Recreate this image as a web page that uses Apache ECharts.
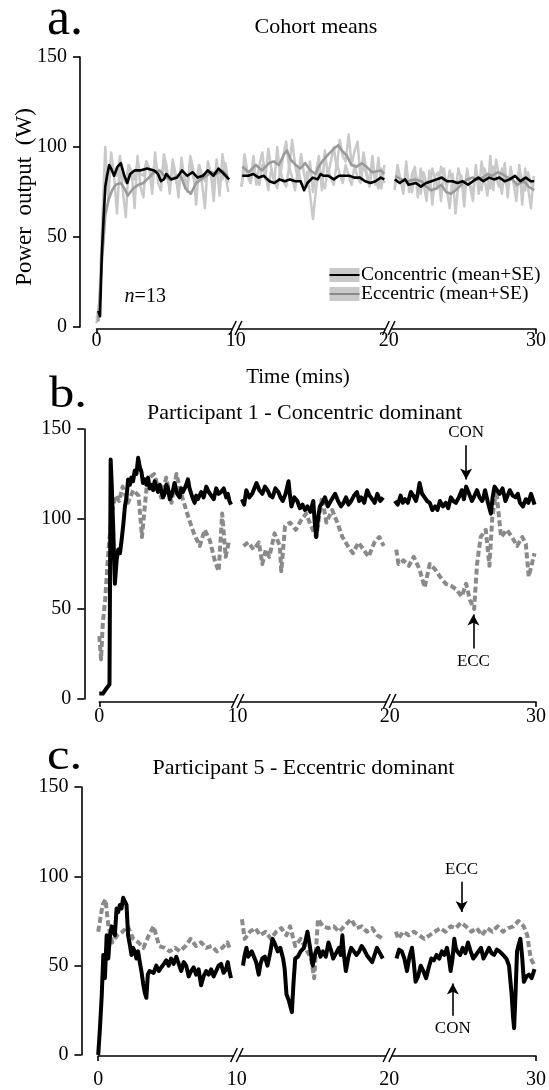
<!DOCTYPE html>
<html>
<head>
<meta charset="utf-8">
<script src="https://cdn.jsdelivr.net/npm/echarts@6/dist/echarts.min.js"></script>
<style>
html,body{margin:0;padding:0;background:#fff;}
#chart{width:549px;height:1090px;}
</style>
</head>
<body>
<div id="chart"></div>
<script>
// ---------- DATA ----------
const tickValues = [0, 9.5, 19.95, 30];
const tickLabels = ['0', '10', '20', '30'];
const breakTimes = [9.5, 19.95];

// Panel a: cohort means [time (min), power (W)]
const conA1 = [[0.12,9],[0.24,6],[0.36,40],[0.48,60],[0.6,78],[0.72,84],[0.87,90],[1.0,88],[1.2,84],[1.43,89],[1.66,91],[1.9,84],[2.1,80],[2.3,85],[2.6,87],[2.98,87],[3.45,88],[3.93,87],[4.2,85],[4.4,81],[4.6,82],[4.76,85],[5.1,82],[5.5,83],[5.83,87],[6.2,84],[6.55,86],[6.9,83],[7.26,84],[7.6,87],[7.98,84],[8.33,88],[8.7,85],[9.05,82]];
const conA2 = [[9.95,84],[10.36,84],[10.7,85],[11.07,83],[11.43,84],[11.8,81],[12.14,80],[12.5,82],[12.86,81],[13.2,82],[13.57,81],[13.93,81],[14.17,76],[14.4,80],[14.76,83],[15.1,82],[15.3,85],[15.5,84],[15.83,84],[16.2,82],[16.55,84],[16.9,84],[17.26,84],[17.6,83],[17.98,83],[18.33,81],[18.7,80],[19.05,81],[19.4,83],[19.64,82]];
const conA3 = [[20.36,82],[20.7,80],[21.07,82],[21.3,79],[21.8,80],[22.14,78],[22.5,80],[22.86,81],[23.2,82],[23.57,83],[23.93,81],[24.3,81],[24.64,80],[25.0,81],[25.36,79],[25.7,81],[26.07,83],[26.4,81],[26.8,83],[27.14,82],[27.5,83],[27.86,81],[28.2,82],[28.57,84],[28.93,81],[29.3,83],[29.64,81],[29.88,81]];
const eccA1 = [[0.12,3],[0.36,35],[0.6,62],[0.83,71],[1.07,76],[1.3,79],[1.67,80],[1.9,77],[2.14,73],[2.5,77],[2.86,79],[3.2,80],[3.57,83],[3.93,86],[4.3,87],[4.64,84],[5.0,82],[5.36,83],[5.7,85],[6.07,77],[6.43,74],[6.8,80],[7.14,82],[7.5,84],[7.86,86],[8.2,85],[8.57,87],[8.93,84]];
const eccA2 = [[9.96,89],[10.4,86],[10.87,90],[11.3,87],[11.77,91],[12.1,92],[12.45,90],[12.8,96],[13.0,98],[13.25,93],[13.6,90],[13.9,88],[14.25,91],[14.6,87],[14.94,85],[15.16,89],[15.5,93],[15.84,96],[16.2,99],[16.5,101],[16.75,98],[17.1,95],[17.4,90],[17.75,89],[18.1,91],[18.44,89],[18.8,86],[19.4,87],[19.64,85]];
const eccA3 = [[20.4,84],[20.8,82],[21.27,81],[21.7,82],[22.17,81],[22.5,78],[22.85,76],[23.2,77],[23.53,79],[23.87,75],[24.2,74],[24.66,77],[25.0,80],[25.33,82],[25.68,83],[26.0,82],[26.36,83],[26.7,85],[27.03,84],[27.37,86],[27.7,85],[28.05,83],[28.4,82],[28.7,79],[29.17,81],[29.5,78],[29.88,76]];

// Panel a: SE traces (evenly sampled within each recording block)
const seBlocks = [[0, 9.0], [9.9, 19.65], [20.35, 29.85]];
const eccSE1 = [2,15,60,100,70,97,84,63,92,75,61,90,86,66,95,78,72,92,88,74,97,80,76,96,89,74,93,85,72,94,82,75,95,88,68,90,80,66,92,86,70,93,73,96,84,75];
const eccSE2 = [78,96,86,80,95,79,90,97,82,99,88,80,100,84,95,103,88,104,90,82,96,85,78,92,75,86,95,76,98,84,92,100,88,104,95,92,107,90,98,103,82,97,86,80,95,79,94,77,90];
const eccSE3 = [76,90,82,74,92,75,85,89,72,88,80,70,87,68,84,86,70,88,76,66,85,63,80,84,67,88,78,70,90,74,92,82,73,95,76,93,84,74,91,72,89,80,70,90,68,88,78,66,84];
const conSE1 = [5,10,45,88,82,93,86,84,95,83,80,90,86,82,92,85,84,92,88,83,93,86,82,92,84,78,90,82,77,88,84,78,92,83,80,90,85,81,89,84,79,90,86,82,91,80];
const conSE2 = [78,90,84,80,89,83,79,90,85,76,88,82,77,87,81,78,89,83,76,88,80,77,86,74,60,76,89,82,77,88,83,79,91,85,80,90,84,79,90,83,80,91,84,78,89,82,77,88,80];
const conSE3 = [77,88,82,76,87,80,75,86,81,74,86,79,76,88,82,77,89,83,78,87,80,76,88,82,77,86,79,75,87,81,76,88,82,77,89,83,78,88,81,77,87,80,78,88,82,76,86,80,78];

// Panel b: Participant 1
const conB1 = [[0,3],[0.25,3],[0.5,6],[0.7,8],[0.78,133],[0.85,120],[0.96,94],[1.07,64],[1.2,78],[1.3,83],[1.42,81],[1.53,88],[1.65,97],[1.76,107],[1.87,112],[1.98,122],[2.1,119],[2.2,123],[2.32,121],[2.44,127],[2.55,125],[2.67,134],[2.78,129],[2.9,126],[3.0,120],[3.12,122],[3.24,119],[3.35,123],[3.46,117],[3.58,119],[3.7,116],[3.8,121],[3.92,118],[4.03,115],[4.15,119],[4.26,118],[4.38,112],[4.49,114],[4.6,119],[4.72,117],[4.84,111],[4.95,113],[5.06,116],[5.17,120],[5.35,114],[5.52,112],[5.63,117],[5.75,115],[5.92,118],[6.09,122],[6.2,117],[6.32,114],[6.44,111],[6.55,109],[6.66,113],[6.77,111],[6.88,113],[7.0,115],[7.17,112],[7.35,118],[7.52,115],[7.69,113],[7.86,111],[8.03,117],[8.2,114],[8.37,115],[8.55,117],[8.72,112],[8.83,114],[8.94,110],[9.05,108]];
const conB2 = [[9.8,111],[9.95,108],[10.1,116],[10.3,112],[10.5,114],[10.65,117],[10.8,120],[11.0,116],[11.2,114],[11.38,118],[11.56,116],[11.73,113],[11.9,112],[12.1,117],[12.3,115],[12.45,112],[12.6,110],[12.8,114],[13.0,121],[13.1,113],[13.2,107],[13.4,112],[13.6,110],[13.78,106],[13.96,108],[14.13,105],[14.3,107],[14.5,104],[14.7,110],[14.8,98],[14.9,90],[15.02,100],[15.15,107],[15.32,109],[15.5,112],[15.7,107],[15.9,110],[16.05,112],[16.2,114],[16.4,110],[16.6,107],[16.78,109],[16.95,112],[17.12,108],[17.3,110],[17.5,113],[17.7,115],[17.85,110],[18.0,112],[18.2,109],[18.4,116],[18.57,113],[18.75,111],[18.92,109],[19.1,114],[19.3,110],[19.5,112]];
const conB3 = [[20.3,110],[20.5,108],[20.7,113],[20.85,109],[21.0,111],[21.2,109],[21.4,115],[21.57,113],[21.75,110],[21.88,114],[22.0,120],[22.17,114],[22.35,112],[22.52,110],[22.7,109],[22.88,105],[23.07,107],[23.23,105],[23.4,110],[23.6,107],[23.8,109],[23.97,106],[24.15,112],[24.32,110],[24.5,109],[24.7,112],[24.9,116],[25.05,111],[25.2,118],[25.4,114],[25.6,110],[25.78,113],[25.95,116],[26.12,112],[26.3,110],[26.4,112],[26.5,116],[26.7,109],[26.9,103],[27.02,112],[27.15,118],[27.32,116],[27.5,114],[27.7,117],[27.9,110],[28.05,113],[28.2,116],[28.4,113],[28.6,112],[28.75,114],[28.9,109],[29.1,107],[29.3,111],[29.48,109],[29.66,114],[29.78,111],[29.9,108]];
const eccB1 = [[0,35],[0.12,22],[0.24,42],[0.4,55],[0.65,85],[0.9,105],[1.1,113],[1.37,110],[1.6,118],[1.97,109],[2.33,116],[2.7,113],[2.93,90],[3.3,122],[3.77,125],[4.24,112],[4.6,123],[4.96,109],[5.3,125],[5.7,112],[6.16,100],[6.5,92],[6.9,85],[7.24,94],[7.6,88],[7.96,76],[8.2,71],[8.44,103],[8.68,79],[8.92,88]];
const eccB2 = [[9.9,85],[10.24,87],[10.6,83],[10.96,87],[11.2,75],[11.44,83],[11.68,79],[12.04,92],[12.4,85],[12.5,71],[12.76,96],[13.1,98],[13.5,94],[13.84,99],[14.2,103],[14.56,96],[14.9,90],[15.3,112],[15.6,98],[16.0,105],[16.35,98],[16.7,90],[17.07,85],[17.43,81],[17.8,87],[18.15,83],[18.5,79],[18.9,87],[19.23,90],[19.54,85]];
const eccB3 = [[20.4,83],[20.55,75],[20.9,77],[21.27,74],[21.6,79],[22.0,72],[22.35,62],[22.7,75],[23.07,72],[23.4,68],[23.8,64],[24.15,63],[24.5,61],[24.9,57],[25.2,64],[25.46,55],[25.75,50],[25.95,75],[26.2,90],[26.55,94],[26.8,74],[27.0,101],[27.27,116],[27.6,90],[28.0,94],[28.35,90],[28.7,85],[29.06,90],[29.3,86],[29.5,68],[29.9,81]];

// Panel c: Participant 5
const conC1 = [[0,0],[0.12,15],[0.24,33],[0.35,56],[0.46,43],[0.58,67],[0.69,54],[0.8,66],[0.92,72],[1.03,70],[1.14,67],[1.26,82],[1.37,80],[1.48,84],[1.6,82],[1.71,88],[1.82,87],[1.94,84],[2.05,67],[2.16,62],[2.28,56],[2.39,60],[2.5,58],[2.62,54],[2.73,58],[2.85,52],[2.96,47],[3.08,40],[3.19,35],[3.3,32],[3.4,45],[3.52,47],[3.64,48],[3.8,46],[3.98,50],[4.15,47],[4.32,49],[4.5,51],[4.66,53],[4.83,50],[5.0,54],[5.17,51],[5.35,55],[5.52,51],[5.69,47],[5.86,52],[6.03,50],[6.2,44],[6.37,47],[6.54,49],[6.71,45],[6.88,48],[7.05,39],[7.22,44],[7.4,47],[7.57,45],[7.74,48],[7.91,44],[8.08,47],[8.25,50],[8.42,51],[8.59,46],[8.76,48],[8.88,52],[8.99,47],[9.1,43]];
const conC2 = [[9.92,50],[10.04,56],[10.16,60],[10.28,55],[10.4,54],[10.52,58],[10.64,58],[10.82,52],[11.0,45],[11.12,51],[11.24,54],[11.42,55],[11.6,50],[11.78,57],[11.95,65],[12.12,62],[12.3,58],[12.48,60],[12.67,54],[12.78,48],[12.9,34],[13.08,30],[13.27,24],[13.38,40],[13.5,54],[13.68,55],[13.87,58],[14.1,60],[14.34,69],[14.52,60],[14.7,50],[14.88,57],[15.06,60],[15.23,55],[15.4,58],[15.6,55],[15.78,63],[15.94,59],[16.1,54],[16.3,57],[16.5,60],[16.62,56],[16.73,67],[16.85,55],[16.97,47],[17.15,55],[17.33,60],[17.52,58],[17.7,56],[17.88,58],[18.05,61],[18.22,59],[18.4,56],[18.58,54],[18.77,52],[18.94,56],[19.1,60],[19.3,57],[19.5,54]];
const conC3 = [[20.44,54],[20.62,59],[20.8,58],[20.98,54],[21.16,47],[21.33,55],[21.5,60],[21.62,52],[21.75,41],[21.92,44],[22.1,50],[22.28,47],[22.47,43],[22.65,49],[22.83,54],[23.0,53],[23.19,56],[23.37,54],[23.55,58],[23.72,56],[23.9,60],[24.02,55],[24.15,47],[24.28,54],[24.4,65],[24.5,60],[24.6,58],[24.8,56],[24.98,60],[25.16,57],[25.34,63],[25.52,58],[25.7,54],[25.88,56],[26.06,58],[26.23,60],[26.4,54],[26.6,57],[26.78,60],[26.95,57],[27.13,56],[27.32,59],[27.5,58],[27.74,56],[27.97,54],[28.15,50],[28.33,34],[28.42,22],[28.5,15],[28.6,35],[28.7,58],[28.82,62],[28.93,65],[29.05,55],[29.17,41],[29.35,44],[29.52,45],[29.7,43],[29.9,48]];
const eccC1 = [[0,69],[0.1,69],[0.3,84],[0.5,87],[0.7,72],[0.96,63],[1.3,67],[1.67,69],[2.03,72],[2.4,65],[2.75,63],[3.1,60],[3.47,67],[3.8,72],[4.18,61],[4.54,60],[4.9,58],[5.26,60],[5.6,58],[5.98,61],[6.33,65],[6.7,61],[7.05,63],[7.4,60],[7.77,61],[8.13,58],[8.5,60],[8.85,63],[9.0,60]];
const eccC2 = [[9.85,76],[10.04,65],[10.4,69],[10.76,71],[11.1,67],[11.47,69],[11.83,65],[12.2,69],[12.55,71],[12.9,67],[13.15,72],[13.5,61],[13.87,65],[14.2,60],[14.58,54],[14.8,43],[15.06,76],[15.4,72],[15.78,71],[16.14,72],[16.5,69],[16.85,72],[17.33,76],[17.7,71],[18.05,72],[18.4,69],[18.77,71],[19.12,67],[19.55,65]];
const eccC3 = [[20.4,69],[20.56,65],[20.9,69],[21.28,67],[21.63,69],[22.0,67],[22.35,65],[22.7,67],[23.07,69],[23.43,71],[23.8,69],[24.15,72],[24.5,71],[24.86,74],[25.2,72],[25.58,69],[25.94,71],[26.3,67],[26.65,71],[27.0,69],[27.37,72],[27.73,69],[28.1,71],[28.45,72],[28.8,75],[29.16,72],[29.4,67],[29.64,54],[29.9,50]];

// Arrow annotations: panel index, label, time, arrow start value, arrow tip value
const annotations = [
  {panel: 1, text: 'CON', t: 25.2, from: 141, to: 122},
  {panel: 1, text: 'ECC', t: 25.7, from: 28, to: 47},
  {panel: 2, text: 'ECC', t: 24.9, from: 97, to: 80},
  {panel: 2, text: 'CON', t: 24.3, from: 22, to: 40}
];
const panelTitles = ['Cohort means', 'Participant 1 - Concentric dominant', 'Participant 5 - Eccentric dominant'];
const panelLetters = ['a.', 'b.', 'c.'];
const legendLabels = ['Concentric (mean+SE)', 'Eccentric (mean+SE)'];

// ---------- BUILD ----------
const FONT = '"Liberation Serif", "DejaVu Serif", serif';
function joinBlocks(blocks) {
  let out = [];
  blocks.forEach((b, i) => {
    if (i > 0) out.push([ (blocks[i-1][blocks[i-1].length-1][0] + b[0][0]) / 2, null ]);
    out = out.concat(b);
  });
  return out;
}
function spread(values, range) {
  const n = values.length, step = (range[1] - range[0]) / (n - 1);
  return values.map((v, i) => [range[0] + i * step, v]);
}

const grids = [
  {left: 96.5, right: 10.4, top: 57, height: 270},
  {left: 99.3, right: 10.4, top: 429, height: 270},
  {left: 98.2, right: 10.4, top: 787, height: 270}
];
const yOffsets = [16.5, 15, 16.8];
const xOffsets = [2, 3, 1];
const xLabelMargins = [2, 5, 14];

const chart = echarts.init(document.getElementById('chart'), null, {renderer: 'canvas'});

const xAxes = grids.map((g, i) => ({
  type: 'value', gridIndex: i, min: 0, max: 30, offset: xOffsets[i],
  axisLine: {onZero: false, lineStyle: {color: '#000', width: 1.6}},
  axisTick: {show: true, customValues: [0, 30], length: 5, lineStyle: {color: '#000', width: 1.6}},
  axisLabel: {customValues: tickValues, margin: xLabelMargins[i], color: '#000', fontSize: 20, fontFamily: FONT,
    formatter: v => { const k = tickValues.indexOf(v); return k >= 0 ? tickLabels[k] : ''; }},
  splitLine: {show: false}
}));
const yAxes = grids.map((g, i) => ({
  type: 'value', gridIndex: i, min: 0, max: 150, interval: 50, offset: yOffsets[i],
  axisLine: {show: true, onZero: false, lineStyle: {color: '#000', width: 1.6}},
  axisTick: {show: true, length: 7, lineStyle: {color: '#000', width: 1.6}},
  axisLabel: {margin: 13, color: '#000', fontSize: 20, fontFamily: FONT},
  splitLine: {show: false}
}));

function lineSeries(name, idx, data, color, width, dash, z) {
  return {
    name, type: 'line', xAxisIndex: idx, yAxisIndex: idx, data, showSymbol: false, symbol: 'none',
    connectNulls: false, z: z, silent: true,
    lineStyle: {color, width, type: dash || 'solid', join: 'round', cap: 'butt'}
  };
}

const series = [
  lineSeries('Concentric SE', 0, joinBlocks([spread(conSE1, seBlocks[0]), spread(conSE2, seBlocks[1]), spread(conSE3, seBlocks[2])]), '#c9c9c9', 2.5, null, 2),
  lineSeries('Eccentric SE', 0, joinBlocks([spread(eccSE1, seBlocks[0]), spread(eccSE2, seBlocks[1]), spread(eccSE3, seBlocks[2])]), '#c9c9c9', 2.5, null, 2),
  lineSeries('Eccentric', 0, joinBlocks([eccA1, eccA2, eccA3]), '#9a9a9a', 2.6, null, 3),
  lineSeries('Concentric', 0, joinBlocks([conA1, conA2, conA3]), '#000', 2.6, null, 4),
  lineSeries('ECC P1', 1, joinBlocks([eccB1, eccB2, eccB3]), '#8a8a8a', 4, [6, 3], 3),
  lineSeries('CON P1', 1, joinBlocks([conB1, conB2, conB3]), '#000', 4, null, 4),
  lineSeries('ECC P5', 2, joinBlocks([eccC1, eccC2, eccC3]), '#8a8a8a', 4, [6, 3], 3),
  lineSeries('CON P5', 2, joinBlocks([conC1, conC2, conC3]), '#000', 4, null, 4)
];

annotations.forEach((a, k) => {
  series.push({
    type: 'line', xAxisIndex: a.panel, yAxisIndex: a.panel, data: [], silent: true, z: 6,
    markLine: {
      silent: true, animation: false, symbol: ['none', 'arrow'], symbolSize: [9, 11],
      lineStyle: {color: '#000', width: 1.6, type: 'solid'},
      label: {show: true, position: 'start', formatter: a.text, color: '#000', fontSize: 17, fontFamily: FONT, distance: 4},
      data: [[{coord: [a.t, a.from]}, {coord: [a.t, a.to]}]]
    }
  });
});

const staticGraphics = [];
// panel letters: [x, y(middle), fontSize, horizontal scale]
const letterStyle = [[47, 20, 52, 1], [49, 395, 44, 1.15], [47, 757, 44, 1.15]];
const titlePos = [[316, 27.5], [304.6, 413], [303.5, 768]];
panelLetters.forEach((t, i) => staticGraphics.push({type: 'text', x: letterStyle[i][0], y: letterStyle[i][1], scaleX: letterStyle[i][3], z: 50,
  style: {text: t, fontSize: letterStyle[i][2], fontFamily: FONT, fill: '#000', align: 'left', verticalAlign: 'middle'}}));
panelTitles.forEach((t, i) => staticGraphics.push({type: 'text', x: titlePos[i][0], y: titlePos[i][1], z: 50,
  style: {text: t, fontSize: 22, fontFamily: FONT, fill: '#000', align: 'center', verticalAlign: 'middle'}}));
staticGraphics.push({type: 'text', x: 24.5, y: 197, rotation: Math.PI / 2, z: 50,
  style: {text: 'Power  output  (W)', fontSize: 23, fontFamily: FONT, fill: '#000', align: 'center', verticalAlign: 'middle'}});
staticGraphics.push({type: 'text', x: 298, y: 377, z: 50,
  style: {text: 'Time (mins)', fontSize: 21, fontFamily: FONT, fill: '#000', align: 'center', verticalAlign: 'middle'}});
staticGraphics.push({type: 'text', x: 124.6, y: 297, z: 50,
  style: {rich: {i: {fontStyle: 'italic', fontSize: 20, fontFamily: FONT}, n: {fontSize: 20, fontFamily: FONT}},
    text: '{i|n}{n|=13}', fill: '#000', align: 'left', verticalAlign: 'middle'}});
const legendLineColors = ['#000', '#8a8a8a'];
legendLabels.forEach((t, i) => {
  const cy = 275 + i * 19;
  staticGraphics.push({type: 'rect', shape: {x: 329.5, y: cy - 7, width: 30, height: 14}, style: {fill: '#c9c9c9'}, z: 50});
  staticGraphics.push({type: 'line', shape: {x1: 329.5, y1: cy, x2: 359.5, y2: cy}, style: {stroke: legendLineColors[i], lineWidth: 2}, z: 51});
  staticGraphics.push({type: 'text', x: 361, y: cy, z: 50,
    style: {text: t, fontSize: 19.5, fontFamily: FONT, fill: '#000', align: 'left', verticalAlign: 'middle'}});
});

chart.setOption({
  animation: false,
  backgroundColor: '#fff',
  grid: grids,
  xAxis: xAxes,
  yAxis: yAxes,
  series: series,
  graphic: staticGraphics
});

const breakGraphics = [];
grids.forEach((g, gi) => {
  breakTimes.forEach(t => {
    const p = chart.convertToPixel({gridIndex: gi}, [t, 0]);
    const x = p[0], y = p[1] + xOffsets[gi];
    breakGraphics.push({type: 'rect', shape: {x: x - 3.3, y: y - 2.5, width: 5.7, height: 5}, style: {fill: '#fff'}, z: 100});
    breakGraphics.push({type: 'line', shape: {x1: x - 6.2, y1: y + 6, x2: x + 0.5, y2: y - 8}, style: {stroke: '#000', lineWidth: 1.5}, z: 101});
    breakGraphics.push({type: 'line', shape: {x1: x - 0.5, y1: y + 6, x2: x + 6.2, y2: y - 8}, style: {stroke: '#000', lineWidth: 1.5}, z: 101});
  });
});
chart.setOption({graphic: staticGraphics.concat(breakGraphics)});
</script>
</body>
</html>
